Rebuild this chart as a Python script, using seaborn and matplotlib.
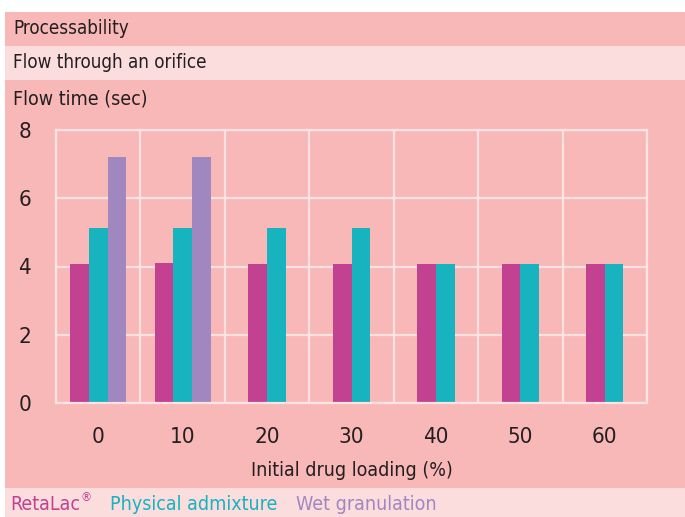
import numpy as np
import pandas as pd
import matplotlib
matplotlib.use('Agg')
import matplotlib.pyplot as plt
from matplotlib import font_manager as fm
from matplotlib.patches import Rectangle
import seaborn as sns

# data
loading = ['0', '10', '20', '30', '40', '50', '60']
retalac = [4.08, 4.10, 4.08, 4.08, 4.08, 4.08, 4.08]
physical = [5.14, 5.14, 5.14, 5.14, 4.08, 4.08, 4.08]
wet = [7.22, 7.20, None, None, None, None, None]
series_names = ['RetaLac', 'Physical admixture', 'Wet granulation']
series_colors = ['#C24190', '#17B3BF', '#A087BF']

DARK_BG = '#F8B8B8'
LIGHT_BG = '#FCDDDE'
GRID = '#FCE2E2'
TEXT = '#231F20'

sns.set_theme(style='white')

# the original uses a very condensed face; take the narrowest installed one
rank = {'ultra-condensed': 0, 'extra-condensed': 1, 'condensed': 2, 'semi-condensed': 3}
narrow = [f for f in fm.fontManager.ttflist
          if str(f.stretch) in rank and str(f.weight) in ('400', 'normal', 'regular', 'book')
          and str(f.style) == 'normal']
narrow.sort(key=lambda f: rank[str(f.stretch)])
if narrow:
    fam, stretch = narrow[0].name, narrow[0].stretch
else:
    fam, stretch = 'Roboto', 'normal'
plt.rcParams['font.family'] = [fam, 'DejaVu Sans']
plt.rcParams['font.stretch'] = stretch

# long table; bars of a category are centred on the category, whatever their number
bar_w = 0.22
rows = []
for i, cat in enumerate(loading):
    vals = [(name, s[i]) for name, s in zip(series_names, [retalac, physical, wet]) if s[i] is not None]
    n = len(vals)
    for j, (name, v) in enumerate(vals):
        rows.append({'x': i + (j - (n - 1) / 2) * bar_w, 'flow': v, 'series': name})
df = pd.DataFrame(rows)

fig = plt.figure(figsize=(6.85, 5.17), dpi=100)
fig.patch.set_facecolor('white')

W, H = 685, 517
def band(y0, y1, color):
    fig.add_artist(Rectangle((5 / W, 1 - y1 / H), 1 - 5 / W, (y1 - y0) / H,
                             transform=fig.transFigure, facecolor=color, edgecolor='none', zorder=0))

band(12, 46, DARK_BG)
band(46, 80, LIGHT_BG)
band(80, 488, DARK_BG)
band(488, 517, LIGHT_BG)

ax = fig.add_axes([56 / W, 1 - 403 / H, (647 - 56) / W, (403 - 130) / H])
ax.set_facecolor(DARK_BG)

sns.barplot(data=df, x='x', y='flow', hue='series', hue_order=series_names,
            palette=series_colors, saturation=1, native_scale=True, dodge=False, width=1.0,
            errorbar=None, legend=False, linewidth=0, ax=ax, zorder=2)

ax.set_xlim(-0.5, 6.5)
ax.set_ylim(0, 8)
ax.set_xticks(range(len(loading)))
ax.set_xticklabels(loading)
ax.set_xticks(np.arange(-0.5, 7, 1), minor=True)
ax.set_yticks([0, 2, 4, 6, 8])
ax.grid(False)
ax.grid(True, axis='y', which='major', color=GRID, linewidth=1.6, zorder=0)
ax.grid(True, axis='x', which='minor', color=GRID, linewidth=1.6, zorder=0)
ax.set_axisbelow(True)
for sp in ax.spines.values():
    sp.set_color(GRID)
    sp.set_linewidth(1.6)
ax.tick_params(axis='both', which='both', length=0, colors=TEXT, labelsize=16)
ax.tick_params(axis='y', pad=18)
ax.tick_params(axis='x', pad=17)
ax.set_xlabel('')
ax.set_ylabel('')

fig.text(13 / W, 1 - 29 / H, 'Processability', fontsize=13.5, color=TEXT, va='center', ha='left')
fig.text(13 / W, 1 - 63 / H, 'Flow through an orifice', fontsize=13.5, color=TEXT, va='center', ha='left')
fig.text(13 / W, 1 - 99 / H, 'Flow time (sec)', fontsize=14, color=TEXT, va='center', ha='left')
fig.text((56 + 647) / 2 / W, 1 - 470 / H, 'Initial drug loading (%)', fontsize=14, color=TEXT,
         va='center', ha='center')

# legend as coloured words along the bottom band
fig.canvas.draw()
renderer = fig.canvas.get_renderer()
x_px = 10
for k, (lab, col) in enumerate(zip(series_names, series_colors)):
    t = fig.text(x_px / W, 1 - 505 / H, lab, fontsize=14, color=col, va='center', ha='left')
    x_px = t.get_window_extent(renderer).x1
    if k == 0:
        r = fig.text(x_px / W, 1 - 498 / H, '®', fontsize=9, color=col, va='center', ha='left')
        x_px = r.get_window_extent(renderer).x1
    x_px += 19

fig.savefig('out.png', dpi=100, facecolor=fig.get_facecolor())
